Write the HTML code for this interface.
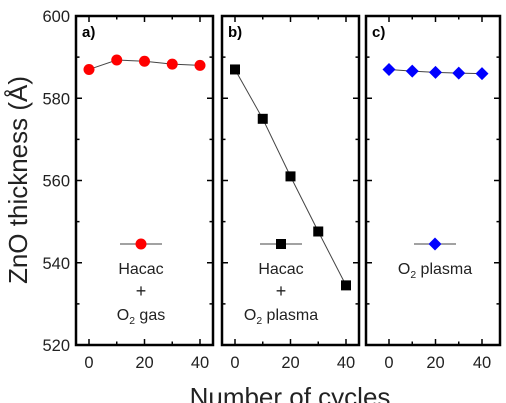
<!DOCTYPE html>
<html><head><meta charset="utf-8"><style>
body{margin:0;background:#fff;}
svg{display:block;font-family:"Liberation Sans",sans-serif;}
</style></head><body>
<svg id="chart" width="506" height="403" viewBox="0 0 506 403"></svg>
<script>
const cycles=[0,10,20,30,40];
const seriesA=[587,589.3,589,588.3,588];
const seriesB=[587,575,561,547.6,534.5];
const seriesC=[587,586.6,586.3,586.1,586];
const yTicks=[520,540,560,580,600];
const xTicks=[0,20,40];
const panelLabels=["a)","b)","c)"];
const NS="http://www.w3.org/2000/svg";
const svg=document.getElementById('chart');
function el(t,a,p){const e=document.createElementNS(NS,t);for(const k in a)e.setAttribute(k,a[k]);(p||svg).appendChild(e);return e;}
const topY=16,botY=345;
function Y(v){return botY-(v-520)/80*(botY-topY);}
const panels=[
 {l:76,r:213,x0:89,x1:200,data:seriesA,color:'#f00',marker:'circle',leg:[141,["Hacac","+","O2 gas"]],name:'panel-a'},
 {l:222,r:359,x0:235,x1:346,data:seriesB,color:'#000',marker:'square',leg:[281,["Hacac","+","O2 plasma"]],name:'panel-b'},
 {l:366,r:500,x0:389,x1:482,data:seriesC,color:'#00f',marker:'diamond',leg:[435,["O2 plasma"]],name:'panel-c'}
];
function drawMarker(g,type,x,y,color){
 let m;
 if(type==='circle')m=el('circle',{cx:x,cy:y,r:5.5,fill:color},g);
 else if(type==='square')m=el('rect',{x:x-5,y:y-5,width:10,height:10,fill:color},g);
 else m=el('polygon',{points:`${x},${y-6.5} ${x+6.5},${y} ${x},${y+6.5} ${x-6.5},${y}`,fill:color},g);
 return m;
}
function txt(g,x,y,s,size,anchor){
 const t=el('text',{x:x,y:y,'font-size':size,'text-anchor':anchor||'middle',fill:'#222'},g);
 if(s.startsWith('O2')){t.appendChild(document.createTextNode('O'));const sub=el('tspan',{'font-size':size*0.65,dy:4},t);sub.textContent='2';const rest=el('tspan',{dy:-4},t);rest.textContent=s.slice(2);}
 else t.textContent=s;
 return t;
}
panels.forEach((p,pi)=>{
 const g=el('g',{});
 
 
 const X=v=>p.x0+(v-0)/40*(p.x1-p.x0);
 for(let v=520;v<=600;v+=10){
  const len=v%20===0?6:3.5;
  el('line',{x1:p.l,x2:p.l+len,y1:Y(v),y2:Y(v),stroke:'#000','stroke-width':1.5},g);
  el('line',{x1:p.r,x2:p.r-len,y1:Y(v),y2:Y(v),stroke:'#000','stroke-width':1.5},g);
 }
 for(let v=0;v<=40;v+=10){
  const len=v%20===0?6:3.5;
  el('line',{x1:X(v),x2:X(v),y1:botY,y2:botY-len,stroke:'#000','stroke-width':1.5},g);
  el('line',{x1:X(v),x2:X(v),y1:topY,y2:topY+len,stroke:'#000','stroke-width':1.5},g);
 }
 xTicks.forEach(v=>{const t=txt(g,X(v),368,String(v),16.5);});
 el('rect',{x:p.l,y:topY,width:p.r-p.l,height:botY-topY,fill:'none',stroke:'#000','stroke-width':2.5},g);
 const lbl=el('text',{x:p.l+6,y:topY+21,'font-size':15,'font-weight':'bold',fill:'#000'},g);lbl.textContent=panelLabels[pi];
 
 
 const pts=cycles.map((c,i)=>X(c)+','+Y(p.data[i])).join(' ');
 const line=el('polyline',{points:pts,fill:'none',stroke:'#444','stroke-width':1},g);
 
 
 cycles.forEach((c,i)=>{const m=drawMarker(g,p.marker,X(c),Y(p.data[i]),p.color);
  
  });
 const lx=p.leg[0];
 const lg=el('g',{},g);
 
 
 el('line',{x1:lx-21,x2:lx+21,y1:244,y2:244,stroke:'#444','stroke-width':1},lg);
 drawMarker(lg,p.marker,lx,244,p.color);
 p.leg[1].forEach((s,i)=>txt(lg,lx,274+i*23,s,s==='+'?18:16));
});
yTicks.forEach(v=>{const t=txt(svg,70,Y(v)+6,String(v),16.5,'end');});
const yt=el('text',{x:0,y:0,'font-size':26,'text-anchor':'middle',fill:'#222',transform:'translate(27,180) rotate(-90)'});
yt.textContent='ZnO thickness (Å)';


const xt=el('text',{x:290,y:406,'font-size':26,'text-anchor':'middle',fill:'#222'});
xt.textContent='Number of cycles';


</script>
</body></html>
